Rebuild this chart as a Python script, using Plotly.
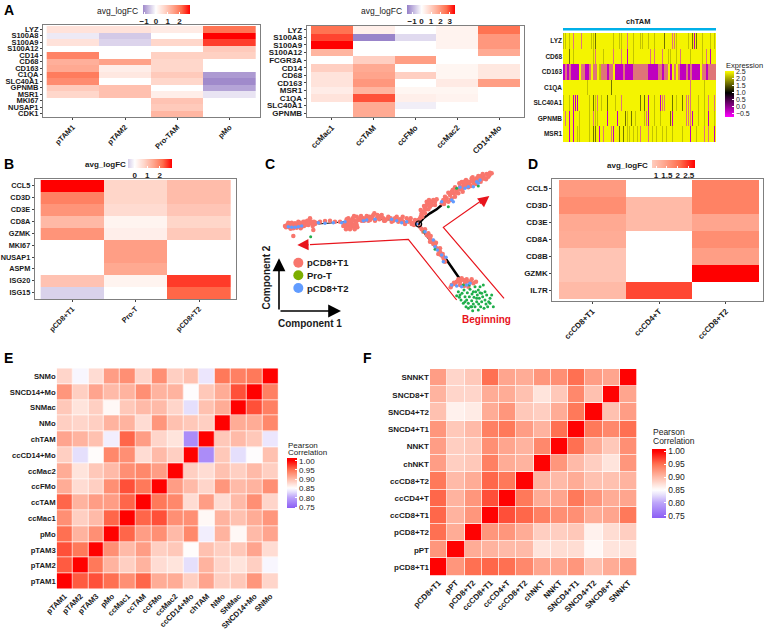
import plotly.graph_objects as go

W, H = 766, 629

# panel A, left
a1_cols = ["pTAM1", "pTAM2", "Pro-TAM", "pMo"]
a1_genes = ["LYZ", "S100A8", "S100A9", "S100A12", "CD14", "CD68", "CD163", "C1QA", "SLC40A1", "GPNMB", "MSR1", "MKI67", "NUSAP1", "CDK1"]
a1_vals = [
    [0.5, 0.5, 0.35, 2.1],
    [-0.2, -0.5, None, 2.9],
    [0.5, -0.4, 0.7, 2.5],
    [None, None, None, 0.9],
    [1.9, None, 0.8, 0.8],
    [1.3, 1.5, 0.7, None],
    [1.4, 0.3, 0.7, None],
    [2.0, 0.4, 0.9, -0.95],
    [1.8, None, 0.7, -1.1],
    [0.9, 1.05, None, -0.85],
    [0.7, 1.05, 0.3, -0.25],
    [None, None, 1.0, None],
    [None, None, 0.9, None],
    [None, None, 1.2, None],
]

# panel A, middle
a2_cols = ["ccMac1", "ccTAM", "ccFMo", "ccMac2", "CD14+Mo"]
a2_genes = ["LYZ", "S100A8", "S100A9", "S100A12", "FCGR3A", "CD14", "CD68", "CD163", "MSR1", "C1QA", "SLC40A1", "GPNMB"]
a2_vals = [
    [2.6, 0.35, None, 0.25, 2.6],
    [3.0, -1.5, -0.45, 0.25, 2.0],
    [3.55, None, None, 0.25, 2.0],
    [1.5, None, None, None, 1.7],
    [None, 1.0, 1.9, None, None],
    [1.0, 1.7, None, 0.2, 0.5],
    [0.6, 1.8, 1.0, 0.2, 0.5],
    [0.6, 2.0, None, 0.45, 1.9],
    [0.4, 1.5, 0.2, 0.2, None],
    [0.6, 2.9, 0.35, 0.25, None],
    [None, 1.7, -0.2, None, None],
    [None, 1.7, None, None, None],
]

# panel A, right: one string per gene, one letter per cell column
a3_genes = ["LYZ", "CD68", "CD163", "C1QA", "SLC40A1", "GPNMB", "MSR1"]
a3_rows = [
    "ooYoYpYYYpYYYYookYYYYYYYYoYYooYYpYYoYY" + "ooYYoYYoYYYYkYYYppoYYYYYoYkmkYYoYYYoYo",
    "YYYkYoYYYYYYYYYopYYYoYYYYpYYYpYYmYYoYY" + "YYYYYpYpYYYpYYooYYoYpYYYYoYYYYYoYpYmYY",
    "mpmpmmmmYppmmpYppYopppmppYmmmmpmmmmppp" + "ppppmmmmmppmppYmYpYpmmmpmpmmmmYppmpppp",
    "YYYYYYYYYYYYoYYYYYYYYYYYkYYYYYYYYYYYYY" + "YYYYYYYYYYYYYYYYYYYYYYYYYpYYYYYYoYYYYY",
    "oYYoYmmmYYYYYoYkopYoYYkYYYoYYpYYYYYYYY" + "kYkYmYYoYYmppYYYkYoYYkYpppYYYoYYoYpYYp",
    "YpYmYmYYoYYYYoYpooYYYYmYYYYmYYYkoYkYoY" + "YYopmYYoYYoYYYYkmYYYYYYpppmYYoYYoYmYYo",
    "YYYmYmYooYYYYoYkkYmYpYYYpmYYkYkYooYoYo" + "pYYYpYoYoYYoYoYYoYYYYoYYYmYYoYYYpYpYYm",
]
a3_levels = {"Y": 2.5, "o": 2.2, "k": 1.7, "m": -0.3, "p": 2.5}
a3_solid_row = "CD163"  # its dark cells run together, elsewhere the stripes are thin

# panel B
b_cols = ["pCD8+T1", "Pro-T", "pCD8+T2"]
b_genes = ["CCL5", "CD3D", "CD3E", "CD8A", "GZMK", "MKI67", "NUSAP1", "ASPM", "ISG20", "ISG15"]
b_vals = [
    [3.0, 0.75, 1.15],
    [2.0, 0.75, 1.15],
    [1.75, 0.65, 1.0],
    [1.2, 0.2, 0.75],
    [1.75, 0.3, 0.95],
    [None, 1.6, None],
    [None, 1.6, None],
    [None, 1.45, None],
    [1.05, 0.2, 2.6],
    [-0.5, None, 2.3],
]

# panel D
d_cols = ["ccCD8+T1", "ccCD4+T", "ccCD8+T2"]
d_genes = ["CCL5", "CD3D", "CD3E", "CD8A", "CD8B", "GZMK", "IL7R"]
d_vals = [
    [1.55, None, 1.85],
    [1.7, 1.1, 1.85],
    [1.35, 1.1, 1.4],
    [1.3, None, 1.7],
    [0.95, None, 1.5],
    [0.95, None, 2.8],
    [1.1, 2.35, None],
]

# panel E, rows listed from the bottom row up
e_names = ["pTAM1", "pTAM2", "pTAM3", "pMo", "ccMac1", "ccTAM", "ccFMo", "ccMac2", "ccCD14+Mo", "chTAM", "NMo", "SNMac", "SNCD14+Mo", "SNMo"]
e_vals = [
    [1, .96, .965, .95, .93, .955, .91, .91, .885, .915, .885, .89, .925, .88],
    [.96, 1, .945, .905, .885, .905, .875, .87, .83, .905, .88, .87, .885, .845],
    [.965, .945, 1, .93, .9, .92, .885, .89, .852, .895, .885, .89, .915, .875],
    [.95, .905, .93, 1, .955, .92, .93, .9, .935, .84, .905, .855, .9, .915],
    [.93, .885, .9, .955, 1, .955, .965, .93, .93, .855, .905, .895, .91, .925],
    [.955, .905, .92, .92, .955, 1, .945, .935, .875, .92, .875, .9, .93, .88],
    [.91, .875, .885, .93, .965, .945, 1, .92, .9, .88, .925, .9, .905, .93],
    [.91, .87, .89, .9, .93, .935, .92, 1, .885, .875, .895, .885, .9, .885],
    [.885, .83, .852, .935, .93, .875, .9, .885, 1, .78, .89, .83, .85, .895],
    [.915, .905, .895, .84, .955, .92, .88, .87, .78, 1, .89, .9, .89, .835],
    [.885, .88, .885, .905, .905, .875, .925, .895, .89, .885, 1, .91, .91, .935],
    [.89, .87, .885, .855, .89, .9, .9, .88, .83, .895, .91, 1, .965, .94],
    [.925, .885, .915, .9, .905, .93, .905, .905, .85, .89, .91, .965, 1, .94],
    [.88, .845, .875, .92, .93, .88, .93, .885, .895, .835, .945, .94, .945, 1],
]

# panel F, rows listed from the bottom row up
f_names = ["pCD8+T1", "pPT", "pCD8+T2", "ccCD8+T1", "ccCD4+T", "ccCD8+T2", "chNKT", "NNKT", "SNCD4+T1", "SNCD4+T2", "SNCD8+T", "SNNKT"]
f_vals = [
    [1, .925, .95, .955, .95, .935, .915, .915, .925, .895, .91, .92],
    [.925, 1, .91, .905, .9, .9, .87, .875, .875, .855, .87, .87],
    [.95, .91, 1, .925, .925, .91, .885, .885, .89, .86, .875, .885],
    [.955, .905, .925, 1, .965, .955, .94, .93, .93, .91, .915, .945],
    [.955, .905, .925, .965, 1, .945, .91, .915, .945, .925, .91, .915],
    [.945, .9, .91, .955, .945, 1, .905, .9, .91, .895, .895, .905],
    [.92, .885, .89, .94, .91, .905, 1, .925, .9, .885, .87, .925],
    [.92, .885, .89, .93, .915, .905, .935, 1, .95, .91, .89, .93],
    [.925, .89, .9, .94, .945, .92, .905, .95, 1, .945, .935, .95],
    [.895, .86, .865, .91, .925, .89, .885, .91, .945, 1, .895, .92],
    [.905, .88, .88, .91, .91, .895, .87, .89, .935, .895, 1, .915],
    [.92, .88, .89, .95, .915, .91, .925, .93, .95, .92, .915, 1],
]

# panel C, trajectory (component units)
t1_x = [75, 82, 90, 98, 105, 112, 120, 128, 135, 140, 148, 152, 160, 165, 100, 110, 125, 132, 150, 145, 100, 88, 118, 138,
        78, 85, 95, 108, 115, 122, 130, 142, 155, 158, 162, 92, 168,
        180, 195, 210, 225, 240, 255, 262, 268, 275, 282, 290, 270, 278, 285, 265, 295, 290, 300, 258, 272, 284,
        250, 258, 265, 272, 280, 288, 292, 268, 276, 260, 282,
        310, 320, 330, 340, 350, 360, 345, 325, 370, 380, 392, 400, 410, 420, 430, 440, 450, 460, 470, 455, 435, 415, 315, 335, 355, 375, 305,
        303, 312, 318, 328, 336, 343, 352, 358, 365, 372, 385, 395, 405, 412, 425, 428, 445, 452, 462, 465, 475,
        480, 485, 495, 505, 515, 525, 510, 500, 490, 520, 498, 512, 483,
        482, 487, 492, 500, 507, 515, 525, 530, 495, 505,
        545, 550, 560, 570, 580, 590, 600, 610, 620, 630, 640, 650, 660, 670, 680, 695,
        555, 565, 578, 588, 598, 608, 618, 628, 638, 648, 658, 668, 678, 688, 548, 572, 585, 605, 625, 645, 665,
        552, 558, 565, 575, 585, 575, 585, 595, 600, 612, 625, 635, 642, 655, 668, 675, 685, 690, 615, 608, 632, 648, 662,
        480, 490, 500, 510, 515, 525, 530, 540, 548, 555, 505, 520, 535,
        485, 495, 505, 512, 520, 510, 528, 535, 543, 552, 540, 548,
        575, 590, 600, 610, 620, 630, 615, 640, 600, 585, 625,
        572, 582, 595, 605, 618, 635, 648, 612]
t1_y = [228, 224, 222, 226, 220, 225, 218, 222, 215, 220, 212, 220, 240, 222, 235, 233, 230, 228, 205, 225, 258, 232, 226, 224,
        232, 218, 218, 228, 215, 235, 215, 212, 215, 228, 215, 236, 218,
        215, 213, 212, 215, 215, 222, 215, 228, 220, 232, 225, 238, 205, 212, 205, 210, 200, 205, 230, 212, 238,
        228, 238, 222, 230, 225, 218, 232, 212, 212, 208, 198,
        205, 198, 210, 195, 205, 200, 212, 212, 205, 208, 205, 212, 200, 208, 215, 205, 212, 218, 215, 222, 222, 215, 208, 200, 198, 212, 212,
        198, 212, 205, 200, 205, 190, 195, 208, 195, 212, 200, 215, 205, 208, 210, 200, 215, 205, 225, 210, 210,
        205, 190, 175, 160, 155, 165, 170, 165, 185, 150, 178, 158, 198,
        180, 200, 168, 155, 150, 165, 155, 148, 190, 178,
        160, 150, 145, 135, 130, 120, 110, 105, 100, 95, 90, 85, 80, 78, 72, 70,
        140, 128, 120, 128, 100, 115, 90, 105, 82, 102, 92, 86, 88, 76, 155, 150, 112, 96, 112, 94, 78,
        162, 152, 155, 145, 140, 125, 115, 130, 118, 95, 95, 85, 100, 78, 72, 85, 80, 68, 108, 125, 108, 92, 95,
        230, 245, 255, 265, 275, 285, 295, 305, 320, 335, 250, 282, 312,
        238, 238, 258, 258, 272, 275, 278, 298, 315, 328, 295, 312,
        405, 395, 395, 390, 388, 395, 400, 400, 405, 402, 410,
        412, 398, 388, 385, 395, 388, 395, 408]
prot_x = [590, 595, 598, 603, 606, 610, 612, 615, 618, 620, 622, 625, 628, 630, 632, 635, 636, 638, 640, 642, 645, 647, 650, 652, 655, 656, 658, 660,
          662, 665, 668, 670, 672, 675, 678, 680, 683, 686, 690, 700, 645, 628, 610, 660, 655, 635, 625, 650, 615, 600, 640, 665, 675, 695, 690,
          590, 565, 655, 492, 152, 525]
prot_y = [437, 425, 442, 450, 430, 460, 420, 440, 470, 450, 428, 460, 440, 418, 470, 452, 432, 482, 462, 442, 470, 425, 455, 435, 480, 462, 445, 428,
          470, 455, 440, 405, 475, 450, 462, 435, 470, 455, 445, 470, 410, 405, 405, 410, 420, 470, 475, 445, 455, 435, 425, 430, 425, 435, 460,
          115, 170, 108, 245, 260, 298]
t2_x = [85, 95, 105, 115, 125, 175, 195, 220, 245, 255, 310, 320, 345, 395, 410, 425, 440, 470, 495, 520, 525, 532, 545, 558, 550,
        545, 575, 580, 615, 625, 640, 650, 660, 655, 600, 575, 590, 605, 620, 630]
t2_y = [230, 232, 232, 230, 228, 218, 220, 218, 218, 215, 212, 210, 208, 208, 212, 218, 215, 222, 245, 270, 290, 300, 315, 322, 335,
        155, 150, 155, 115, 110, 110, 95, 90, 100, 112, 405, 408, 410, 405, 400]
branch_left = ([175, 230, 300, 340, 400, 440, 475], [222, 217, 212, 208, 210, 215, 222])
branch_up = ([475, 490, 510, 530, 545], [222, 205, 190, 178, 165])
branch_down = ([475, 495, 530, 560, 600], [222, 250, 295, 330, 388])
red_left = ([590, 445, 150], [450, 268, 284])
red_right = ([732, 550, 670], [445, 232, 148])
legend_y = [338, 376, 414]
legend_names = ["pCD8+T1", "Pro-T", "pCD8+T2"]

FONT = "Liberation Sans"
INK = "#1a1a1a"
FRAME = "#7f7f7f"

LOGFC_REDS = [(0, "#ffffff"), (.25, "#ffd6ca"), (.5, "#ffa68e"), (.75, "#ff6f4e"), (1, "#ff0000")]
PEARSON = [(.74, "#8a5cf5"), (.80, "#bda4fa"), (.83, "#e6dffc"), (.85, "#ffffff"), (.90, "#ffbba8"), (.95, "#ff7252"), (1.0, "#ff0000"), (1.02, "#ff0000")]


def hex2rgb(c):
    return [int(c[i:i + 2], 16) for i in (1, 3, 5)]


def sample(anchors, v):
    for (v0, c0), (v1, c1) in zip(anchors, anchors[1:]):
        if v <= v1:
            t = max(0, (v - v0) / (v1 - v0))
            mix = [a + (b - a) * t for a, b in zip(hex2rgb(c0), hex2rgb(c1))]
            return "rgb(%d,%d,%d)" % tuple(mix)
    return anchors[-1][1]


def make_scale(lo, hi, anchors):
    return [[i / 40, sample(anchors, lo + (hi - lo) * i / 40)] for i in range(41)]


def logfc_scale(lo, hi, low_color="#a08acb"):
    # purple below zero, white at zero, red at the top of the range
    anchors = [(f * hi, c) for f, c in LOGFC_REDS]
    if lo < 0:
        anchors = [(lo, low_color)] + anchors
    return make_scale(lo, hi, anchors)


fig = go.Figure()
layout = {}
notes = []


def note(text, x, y, size=8, bold=False, anchor="left", angle=0, color=INK):
    notes.append(dict(text=text, x=x / W, y=1 - y / H, xref="paper", yref="paper", showarrow=False,
                      xanchor=anchor, yanchor="middle", textangle=angle, borderpad=0,
                      font=dict(family=FONT, size=size, color=color, weight="bold" if bold else "normal")))


def heat_panel(n, z, xlabels, ylabels, frame, tiles, scale, lo, hi, bar, framed=True, gap=0, size=8, flip=True):
    fl, ft, fr, fb = frame
    tl, tt, tr, tb = tiles
    nx, ny = len(xlabels), len(ylabels)
    px, py = (tr - tl) / nx, (tb - tt) / ny
    xr = [-0.5 - (tl - fl) / px, nx - 0.5 + (fr - tr) / px]
    yr = [ny - 0.5 + (fb - tb) / py, -0.5 - (tt - ft) / py]
    if not flip:
        yr = yr[::-1]
    tag = "" if n == 1 else str(n)
    fig.add_trace(go.Heatmap(z=z, x=list(range(nx)), y=list(range(ny)), colorscale=scale, zmin=lo, zmax=hi,
                             xgap=gap, ygap=gap, hoverongaps=False, colorbar=bar,
                             xaxis="x" + tag, yaxis="y" + tag))
    line = dict(showline=framed, linecolor=FRAME, linewidth=1, mirror=framed, showgrid=False, zeroline=False,
                tickmode="array", ticks="outside" if framed else "", ticklen=2, tickwidth=1, tickcolor="#444",
                tickfont=dict(family=FONT, size=size, color=INK, weight="bold"))
    layout["xaxis" + tag] = dict(line, domain=[fl / W, fr / W], anchor="y" + tag, range=xr,
                                 tickvals=list(range(nx)), ticktext=xlabels, tickangle=-45)
    layout["yaxis" + tag] = dict(line, domain=[1 - fb / H, 1 - ft / H], anchor="x" + tag, range=yr,
                                 tickvals=list(range(ny)), ticktext=ylabels)


def hbar(x0, x1, y0, y1, ticks, labels):
    return dict(orientation="h", x=x0 / W, xanchor="left", y=1 - y0 / H, yanchor="top", len=x1 - x0, lenmode="pixels",
                thickness=y1 - y0, xpad=0, ypad=0, outlinewidth=0, tickmode="array", tickvals=ticks, ticktext=labels,
                ticks="inside", ticklen=2, tickcolor="white", tickfont=dict(family=FONT, size=8, color=INK, weight="bold"))


def vbar(x0, y0, y1, thick, ticks, labels, size=8):
    return dict(x=x0 / W, xanchor="left", y=1 - y0 / H, yanchor="top", len=y1 - y0, lenmode="pixels",
                thickness=thick, xpad=0, ypad=0, outlinewidth=0, tickmode="array", tickvals=ticks, ticktext=labels,
                ticks="inside", ticklen=2, tickcolor="white", tickfont=dict(family=FONT, size=size, color=INK))


heat_panel(1, a1_vals, a1_cols, a1_genes, (43, 25, 260, 117), (46.7, 26, 255.7, 117),
           logfc_scale(-1.1, 2.9), -1.1, 2.9, hbar(143, 190, 5, 14, [-1, 0, 1, 2], ["−1", "0", "1", "2"]), size=7.5)
heat_panel(2, a2_vals, a2_cols, a2_genes, (306.7, 25.7, 524, 117), (311, 26, 520, 117),
           logfc_scale(-1.55, 3.55, "#9680c8"), -1.55, 3.55, hbar(407, 455, 5, 14, [-1, 0, 1, 2, 3], ["−1", "0", "1", "2", "3"]))
heat_panel(3, b_vals, b_cols, b_genes, (34.7, 179, 236, 299), (40.7, 180, 230.7, 298.5),
           logfc_scale(-0.55, 3.0, "#d6cee9"), -0.55, 3.0, hbar(128, 172, 159, 167.7, [0, 1, 2], ["0", "1", "2"]), size=7.3)
heat_panel(4, d_vals, d_cols, d_genes, (552.3, 179, 763, 300.7), (559, 180, 759.3, 299),
           logfc_scale(0.83, 2.8), 0.83, 2.8, hbar(652.3, 695.7, 160, 168.3, [1, 1.5, 2, 2.5], ["1", "1.5", "2", "2.5"]))

pearson_ticks = [.75, .8, .85, .9, .95, 1]
pearson_labels = ["0.75", "0.80", "0.85", "0.90", "0.95", "1.00"]
heat_panel(5, e_vals, e_names, e_names, (56.7, 368.3, 278.3, 589.3), (56.7, 368.3, 278.3, 589.3),
           make_scale(.743, 1.013, PEARSON), .743, 1.013, vbar(287.3, 458.3, 508.3, 10, pearson_ticks, pearson_labels),
           framed=False, gap=0.7, flip=False, size=7.7)
heat_panel(6, f_vals, f_names, f_names, (430, 369, 637.3, 575.7), (430, 369, 637.3, 575.7),
           make_scale(.742, 1.008, PEARSON), .742, 1.008, vbar(651.7, 449, 518.3, 14, pearson_ticks, pearson_labels, 8.5),
           framed=False, gap=0.7, flip=False)

# chTAM expression block: thin rows get a yellow half cell after every letter
a3_z, a3_mix = [], []
for gene, row in zip(a3_genes, a3_rows):
    cells = "".join(c + (c if gene == a3_solid_row else "Y") for c in row)
    a3_z.append([a3_levels[c] for c in cells])
    a3_mix.append([-0.5 if c == "p" else None for c in cells])
expr_scale = [[0, "#ff00ff"], [(1 + .74) / 3.31, "#000000"], [1, "#ffff00"]]
xs = list(range(len(a3_z[0])))
ys = list(range(len(a3_z)))
fig.add_trace(go.Heatmap(z=a3_z, x=xs, y=ys, colorscale=expr_scale, zmin=-.74, zmax=2.57, xaxis="x7", yaxis="y7",
                         colorbar=vbar(725, 71, 116.7, 9, [-.5, 0, .5, 1, 1.5, 2, 2.5], ["−0.5", "0.0", "0.5", "1.0", "1.5", "2.0", "2.5"], 7)))
fig.add_trace(go.Heatmap(z=a3_mix, x=xs, y=ys, colorscale=[[0, "#d020c8"], [1, "#d020c8"]], showscale=False, opacity=.6,
                         hoverongaps=False, xaxis="x7", yaxis="y7"))
layout["xaxis7"] = dict(domain=[563 / W, 716 / W], anchor="y7", visible=False, range=[-.5, len(xs) - .5])
layout["yaxis7"] = dict(domain=[1 - 142 / H, 1 - 33 / H], anchor="x7", range=[len(ys) - .5, -.5], showgrid=False, zeroline=False,
                        showline=False, tickmode="array", tickvals=ys, ticktext=a3_genes, ticks="", ticklen=0,
                        tickfont=dict(family=FONT, size=6.5, color=INK, weight="bold"))

# trajectory panel
for bx, by, wd in [(*branch_left, 1), (*branch_up, 2.5), (*branch_down, 2.5)]:
    fig.add_trace(go.Scatter(x=bx, y=by, mode="lines", line=dict(color="black", width=wd), xaxis="x8", yaxis="y8", showlegend=False))
for px_, py_, col, sz in [(t1_x, t1_y, "#f8766d", 4.5), (prot_x, prot_y, "#1fae4b", 3), (t2_x, t2_y, "#619cff", 3.5)]:
    fig.add_trace(go.Scatter(x=px_, y=py_, mode="markers", marker=dict(color=col, size=sz, line_width=0), xaxis="x8", yaxis="y8", showlegend=False))
fig.add_trace(go.Scatter(x=[476], y=[222], mode="markers", marker=dict(color="rgba(0,0,0,0)", size=6, line=dict(color="black", width=1.2)),
                         xaxis="x8", yaxis="y8", showlegend=False))
fig.add_trace(go.Scatter(x=[115] * 3, y=legend_y, mode="markers", marker=dict(color=["#f8766d", "#7cae00", "#619cff"], size=10, line_width=0),
                         xaxis="x8", yaxis="y8", showlegend=False))
for rx, ry in [red_left, red_right]:
    fig.add_trace(go.Scatter(x=rx, y=ry, mode="lines", line=dict(color="#e8141c", width=1.2), xaxis="x8", yaxis="y8", showlegend=False))
layout["xaxis8"] = dict(domain=[260 / W, 520 / W], anchor="y8", range=[0, 780], visible=False)
layout["yaxis8"] = dict(domain=[1 - 340 / H, 1 - 150 / H], anchor="x8", range=[570, 0], visible=False)

arrows = []
for x1, y1, x0, y0, col, wd in [(112, 285, 150, 284, "#e8141c", 1.4), (688, 138, 655, 164, "#e8141c", 1.4),
                                (57, 325, 57, 483, "black", 1.6), (243, 483, 57, 483, "black", 1.6)]:
    arrows.append(dict(x=x1, y=y1, ax=x0, ay=y0, xref="x8", yref="y8", axref="x8", ayref="y8", text="", showarrow=True,
                       arrowhead=2, arrowsize=1.6, arrowwidth=wd, arrowcolor=col))

for name, yy in zip(legend_names, legend_y):
    note(name, 260 + 138 / 3, 150 + yy / 3, size=9.5, bold=True)
note("Component 1", 277, 323, size=10, bold=True)
note("Component 2", 266, 277.5, size=10, bold=True, anchor="center", angle=-90)
note("Beginning", 461, 319, size=10, bold=True, color="#e8141c")

for text, x, y in [("A", 3, 10), ("B", 3, 164), ("C", 264, 164), ("D", 527, 164), ("E", 3, 358), ("F", 362, 358)]:
    note(text, x, y, size=14, bold=True, color="black")

for x, y in [(139, 11), (402.7, 11)]:
    note("avg_logFC", x, y, size=8.5, anchor="right")
for x, y in [(126.7, 164), (649, 165)]:
    note("avg_logFC", x, y, size=8, bold=True, anchor="right")
note("chTAM", 638, 22, size=7.5, bold=True, anchor="center")
note("Expression", 725, 65, size=7.5)
note("Pearson", 287, 445, size=8)
note("Correlation", 287, 452.5, size=8)
note("Pearson", 652, 432, size=8.5)
note("Correlation", 652, 441, size=8.5)

fig.update_layout(**layout)
fig.update_layout(
    width=W, height=H, margin=dict(l=0, r=0, t=0, b=0, autoexpand=False), showlegend=False,
    paper_bgcolor="white", plot_bgcolor="white", annotations=notes + arrows,
    shapes=[dict(type="rect", xref="paper", yref="paper", x0=563 / W, x1=716 / W, y0=1 - 30.5 / H, y1=1 - 28 / H,
                 fillcolor="#00b0e8", line_width=0)],
)
fig.write_html("out.html", config={"displayModeBar": False},
               post_script="document.body.style.margin='0';document.documentElement.style.overflow='hidden';")
